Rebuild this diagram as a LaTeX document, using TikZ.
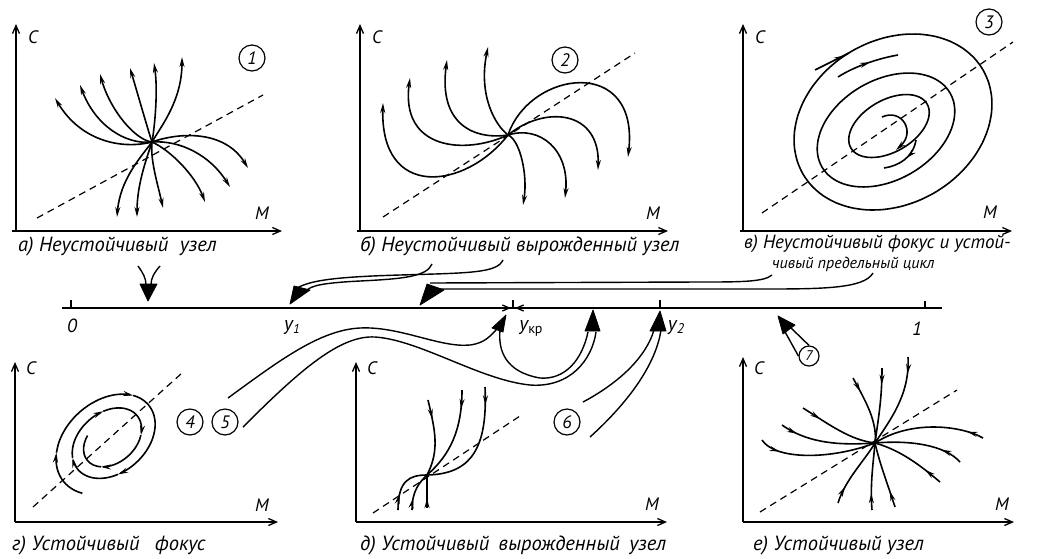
\documentclass[tikz,border=0pt]{standalone}
\usepackage{fontspec}
\setmainfont{PT Sans}
\usetikzlibrary{arrows.meta,decorations.markings}
\newcommand\myell[5]{\draw[traj] plot[smooth cycle, domain=0:350, samples=36, variable=\t] ({#1 + #3*cos(\t)*cos(#5) + #4*sin(\t)*sin(#5)}, {#2 - #3*cos(\t)*sin(#5) + #4*sin(\t)*cos(#5)});}
\newcommand\spirpiece[3]{\draw[traj,#3] plot[smooth, domain=#1:#2, samples=12, variable=\t] ({110 + exp(-0.00099*(\t-150))*(64*cos(\t)*0.766 + 46*sin(\t)*0.643)}, {440 + exp(-0.00099*(\t-150))*(-64*cos(\t)*0.643 + 46*sin(\t)*0.766)});}
\tikzset{
  ax/.style={line width=1.3pt, -{Straight Barb[length=8pt,width=7pt]}},
  traj/.style={line width=1.6pt},
  tr/.style={traj, -{Stealth[length=10pt,width=5pt]}},
  ma/.style={postaction={decorate, decoration={markings, mark=at position #1 with {\arrow{Stealth[length=10pt,width=5pt]}}}}},
  dline/.style={line width=1.2pt, dash pattern=on 7pt off 5pt},
  lbl/.style={font=\itshape\fontsize{18}{18}\selectfont, inner sep=0pt},
  capt/.style={font=\itshape\fontsize{20.5}{20.5}\selectfont, inner sep=0pt, anchor=base west},
  num/.style={circle, draw, line width=1.2pt, minimum size=26pt, inner sep=0pt, font=\itshape\fontsize{18}{18}\selectfont},
  shaft/.style={line width=1.4pt},
  head/.style={fill=black, draw=black, line width=0.8pt, line join=round}
}
\begin{document}
\begin{tikzpicture}[x=1pt,y=-1pt]
\useasboundingbox[fill=white] (0,0) rectangle (1040,558);

% ---------- panel a
\coordinate (Oa) at (16,231);
\draw[ax] (Oa) -- ++(0,-207);
\draw[ax] (Oa) ++(-4,0) -- ++(270,0);
\node[lbl] (Ca) at (33,37) {C};
\node[lbl] (Ma) at (262,213) {M};
\node[num] (n1) at (252,58) {1};
\draw[dline] (37,218) -- (263,95);
\coordinate (Na) at (152,142);
\draw[tr] (Na) .. controls (120,150) and (80,140) .. (55,98);
\draw[tr] (Na) .. controls (125,145) and (95,125) .. (80,85);
\draw[tr] (Na) .. controls (135,140) and (110,110) .. (100,74);
\draw[tr] (Na) .. controls (148,130) and (138,95) .. (130,68);
\draw[tr] (Na) .. controls (155,125) and (158,90) .. (154,63);
\draw[tr] (Na) .. controls (162,125) and (182,100) .. (182,57);
\draw[tr] (Na) .. controls (180,132) and (225,130) .. (248,168);
\draw[tr] (Na) .. controls (180,140) and (210,155) .. (230,187);
\draw[tr] (Na) .. controls (170,150) and (195,175) .. (205,202);
\draw[tr] (Na) .. controls (150,160) and (158,185) .. (163,208);
\draw[tr] (Na) .. controls (146,160) and (137,185) .. (137,217);
\draw[tr] (Na) .. controls (140,158) and (120,180) .. (117,217);
\node[capt] (capa) at (18,251) {а) Неустойчивый\hspace{6pt} узел};

% ---------- panel b
\coordinate (Ob) at (360,231);
\draw[ax] (Ob) -- ++(0,-207);
\draw[ax] (Ob) ++(-3,0) -- ++(311,0);
\node[lbl] (Cb) at (377,37) {C};
\node[lbl] (Mb) at (653,213) {M};
\node[num] (n2) at (565,60) {2};
\draw[dline] (383,217) -- (635,53);
\coordinate (Nb) at (508,135);
\draw[tr] (Nb) .. controls (465,190) and (380,200) .. (383,103);
\draw[tr] (Nb) .. controls (465,155) and (400,150) .. (410,78);
\draw[tr] (Nb) .. controls (475,140) and (438,125) .. (447,60);
\draw[tr] (Nb) .. controls (495,125) and (478,95) .. (488,47);
\draw[tr] (Nb) .. controls (530,70) and (640,55) .. (628,157);
\draw[tr] (Nb) .. controls (545,105) and (600,110) .. (598,170);
\draw[tr] (Nb) .. controls (540,125) and (570,150) .. (565,198);
\draw[tr] (Nb) .. controls (520,140) and (528,175) .. (523,205);
\node[capt] (capb) at (360,251) {б) Неустойчивый вырожденный узел};

% ---------- panel c
\coordinate (Oc) at (743,231);
\draw[ax] (Oc) -- ++(0,-207);
\draw[ax] (Oc) ++(-3,0) -- ++(272,0);
\node[lbl] (Cc) at (760,37) {C};
\node[lbl] (Mc) at (990,212) {M};
\node[num] (n3) at (989,22) {3};
\draw[dline] (762,213) -- (1013,42);
\myell{893}{122}{104}{82}{30}
\myell{886}{130}{74}{50}{30}
\myell{889}{126}{44}{26}{30}
\draw[tr] (882,117) .. controls (902,108) and (916,132) .. (896,150);
\draw[traj, ma=0.45] (916,140) .. controls (913,158) and (898,166) .. (884,168);
\draw[traj, ma=0.85] (815,70) -- (849,53);
\draw[traj, ma=0.55] (838,77) .. controls (855,66) and (880,58) .. (898,55);
\node[capt, font=\itshape\fontsize{19}{19}\selectfont] (capc) at (744,248) {в) Неустойчивый фокус и устой-};
\node[capt, font=\itshape\fontsize{16}{16}\selectfont] (capc2) at (772,268) {чивый предельный цикл};

% ---------- panel d
\coordinate (Od) at (15,522);
\draw[ax] (Od) -- ++(0,-160);
\draw[ax] (Od) -- ++(263,0);
\node[lbl] (Cd) at (31,368) {C};
\node[lbl] (Md) at (262,505) {M};
\draw[dline] (33,507) -- (182,373);
\spirpiece{150}{215}{tr}
\spirpiece{215}{330}{tr}
\spirpiece{330}{400}{traj}
\spirpiece{400}{470}{tr}
\spirpiece{470}{560}{tr}
\spirpiece{560}{650}{tr}
\spirpiece{650}{760}{tr}
\spirpiece{760}{860}{tr}
\spirpiece{860}{960}{traj}
\node[capt] (capd) at (12,550) {г) Устойчивый\hspace{10pt} фокус};

% ---------- panel e
\coordinate (Oe) at (356,522);
\draw[ax] (Oe) -- ++(0,-160);
\draw[ax] (Oe) -- ++(311,0);
\node[lbl] (Ce) at (372,368) {C};
\node[lbl] (Me) at (652,504) {M};
\draw[dline] (373,513) -- (520,416);
\coordinate (Ne) at (427,475);
\draw[traj, ma=0.25] (428,400) .. controls (435,430) and (440,450) .. (Ne);
\draw[traj, ma=0.2] (462,390) .. controls (462,430) and (450,455) .. (Ne);
\draw[traj, ma=0.15] (485,387) .. controls (488,450) and (470,474) .. (Ne);
\draw[traj, ma=0.3] (398,510) .. controls (398,480) and (410,475) .. (Ne);
\draw[traj, ma=0.3] (412,510) .. controls (412,490) and (420,482) .. (Ne);
\draw[traj, ma=0.3] (427,508) .. controls (427,495) and (427,485) .. (Ne);
\node[capt] (cape) at (360,550) {д) Устойчивый\hspace{4pt} вырожденный\hspace{4pt} узел};

% ---------- panel f
\coordinate (Of) at (743,522);
\draw[ax] (Of) -- ++(0,-165);
\draw[ax] (Of) -- ++(271,0);
\node[lbl] (Cf) at (759,368) {C};
\node[lbl] (Mf) at (1002,504) {M};
\draw[dline] (760,512) -- (957,390);
\coordinate (Nf) at (875,443);
\draw[traj, ma=0.22] (853,378) .. controls (862,395) and (878,420) .. (Nf);
\draw[traj, ma=0.22] (882,368) .. controls (882,400) and (878,420) .. (Nf);
\draw[traj, ma=0.18] (908,357) .. controls (910,395) and (890,420) .. (Nf);
\draw[traj, ma=0.25] (803,408) .. controls (830,425) and (850,440) .. (Nf);
\draw[traj, ma=0.18] (782,425) .. controls (810,445) and (845,445) .. (Nf);
\draw[traj, ma=0.18] (762,440) .. controls (775,460) and (830,460) .. (Nf);
\draw[traj, ma=0.15] (983,438) .. controls (960,425) and (910,420) .. (Nf);
\draw[traj, ma=0.25] (960,462) .. controls (945,445) and (910,440) .. (Nf);
\draw[traj, ma=0.25] (940,482) .. controls (920,465) and (900,450) .. (Nf);
\draw[traj, ma=0.25] (838,503) .. controls (845,480) and (865,460) .. (Nf);
\draw[traj, ma=0.25] (872,510) .. controls (870,485) and (873,465) .. (Nf);
\draw[traj, ma=0.25] (895,507) .. controls (888,485) and (880,465) .. (Nf);
\node[capt] (capf) at (753,550) {е) Устойчивый узел};

% ---------- main axis
\coordinate (A0) at (62,308);
\coordinate (A1) at (942,308);
\draw[line width=1.6pt] (A0) -- (A1);
\coordinate (t0) at (71,308);
\coordinate (tkr) at (513,308);
\coordinate (t2) at (660,308);
\coordinate (t1) at (925,308);
\draw[line width=1.1pt] (t0) -- ++(0,-8);
\draw[line width=1.1pt] (tkr) -- ++(0,-8);
\draw[line width=1.1pt] (t2) -- ++(0,-8);
\draw[line width=1.1pt] (t1) -- ++(0,-7);
\draw[line width=1.3pt, -{Straight Barb[length=7pt,width=6pt]}] (490,308) -- (511,308);
\draw[line width=1.3pt, -{Straight Barb[length=7pt,width=6pt]}] (536,308) -- (515,308);
\node[lbl, font=\itshape\fontsize{19}{19}\selectfont] (l0) at (72,326) {0};
\node[lbl, font=\itshape\fontsize{20}{20}\selectfont] (ly1) at (292,328) {y\raisebox{-0.3ex}{\fontsize{13}{13}\selectfont 1}};
\node[lbl, font=\itshape\fontsize{20}{20}\selectfont] (lykr) at (531,328) {y\raisebox{-0.3ex}{\upshape\fontsize{14}{14}\selectfont кр}};
\node[lbl, font=\itshape\fontsize{20}{20}\selectfont] (ly2) at (676,328) {y\raisebox{-0.3ex}{\fontsize{14}{14}\selectfont 2}};
\node[lbl, font=\itshape\fontsize{19}{19}\selectfont] (l1) at (917,329) {1};

% ---------- big arrows from captions
% a
\draw[shaft] (138,266) .. controls (143,273) and (146,278) .. (146,285);
\draw[shaft] (160,266) .. controls (154,273) and (151,278) .. (151,285);
\draw[head] (140,284) -- (157,284) -- (148,301) -- cycle;
% b
\draw[shaft] (503,260) .. controls (497,273) and (470,273) .. (400,275) .. controls (330,277) and (310,281) .. (297,288);
\draw[shaft] (432,264) .. controls (427,277) and (400,279) .. (360,281) .. controls (320,283) and (312,286) .. (307,290);
\draw[head] (290,304) -- (294,286) -- (310,290) -- cycle;
% c
\draw[shaft] (772,275) .. controls (764,282) and (740,282) .. (700,282) -- (430,283);
\draw[shaft] (873,273) .. controls (864,289) and (820,289) .. (760,289) -- (440,289);
\draw[head] (420,305) -- (427,284) -- (444,290) -- cycle;

% ---------- numbered arrows below axis
\node[num] (n4) at (190,422) {4};
\node[num] (n5) at (225,422) {5};
\node[num] (n6) at (567,422) {6};
\node[num, minimum size=20pt, font=\itshape\fontsize{14}{14}\selectfont] (n7) at (809,356) {7};
% 4 -> ykr
\draw[shaft] (228,398) .. controls (280,360) and (320,330) .. (360,328) .. controls (400,326) and (440,348) .. (470,345) .. controls (485,343) and (490,336) .. (496,330);
\draw[shaft] (500,330) .. controls (498,350) and (505,372) .. (540,378) .. controls (565,380) and (582,360) .. (588,332);
\draw[head] (506,315) -- (492,328) -- (503,332) -- cycle;
% 5 -> between ykr and y2
\draw[shaft] (243,427) .. controls (300,370) and (340,335) .. (375,337) .. controls (420,340) and (480,380) .. (530,385) .. controls (570,388) and (592,360) .. (596,332);
\draw[head] (593,310) -- (585,331) -- (600,331) -- cycle;
% 6 -> y2
\draw[shaft] (583,402) .. controls (615,385) and (645,360) .. (654,330);
\draw[shaft] (590,437) .. controls (620,410) and (655,370) .. (661,330);
\draw[head] (660,311) -- (650,331) -- (666,331) -- cycle;
% 7
\draw[shaft] (n7.north) -- (789,326);
\draw[shaft] (n7.west) -- (784,330);
\draw[head] (778,316) -- (783,334) -- (795,325) -- cycle;
\end{tikzpicture}
\end{document}
